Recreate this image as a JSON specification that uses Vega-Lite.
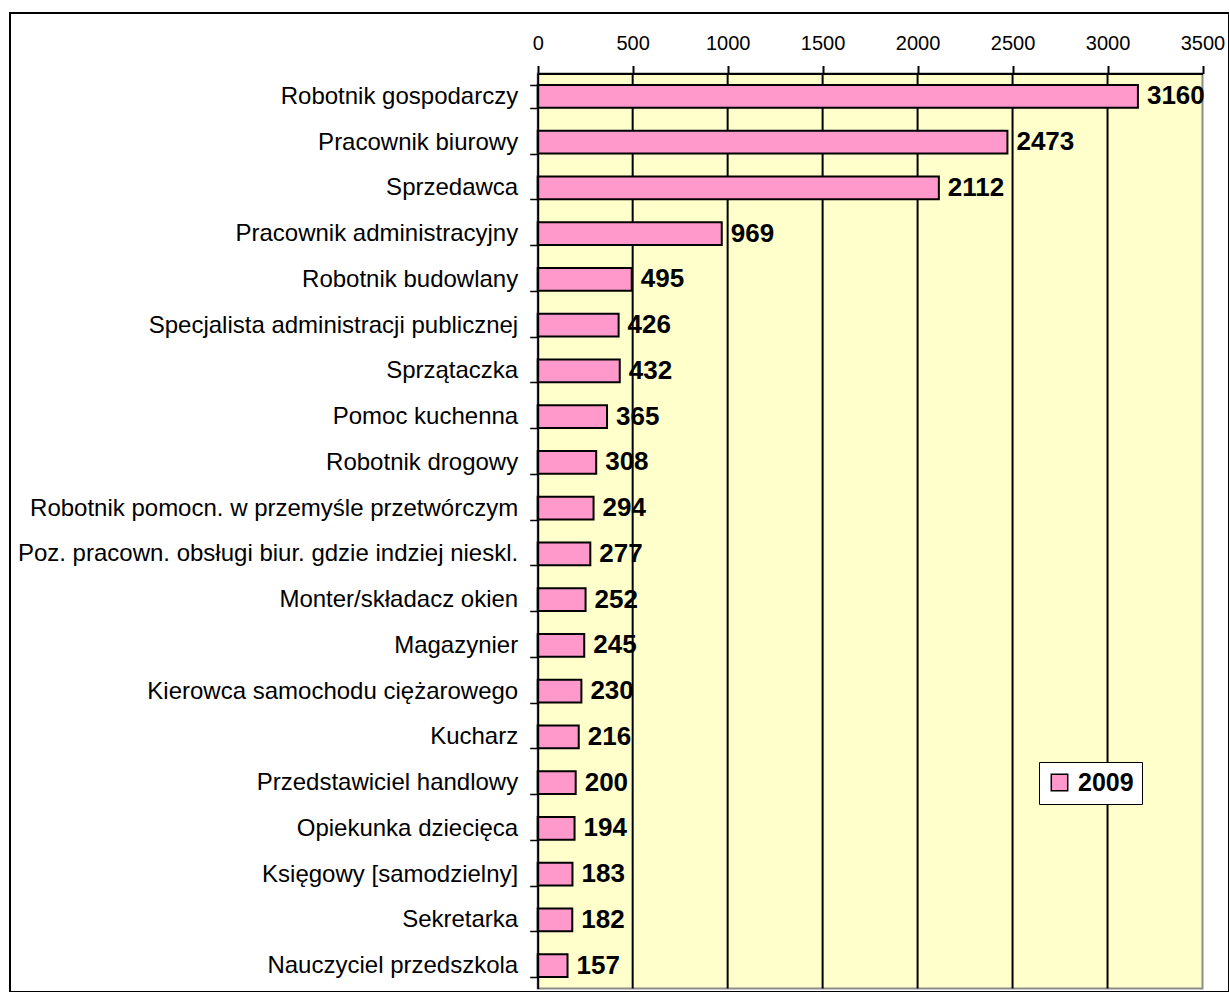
{
  "$schema": "https://vega.github.io/schema/vega-lite/v6.json",
  "width": 1219,
  "height": 979,
  "autosize": {"type": "none"},
  "padding": {"left": 10, "top": 13, "right": 0, "bottom": 0},
  "background": "white",
  "config": {
    "view": {"stroke": "black", "strokeWidth": 2, "fill": "white"},
    "font": "Liberation Sans"
  },
  "layer": [
    {
      "data": {"values": [{}]},
      "mark": {"type": "rect", "fill": "#FFFFCC", "stroke": "#8c8c8c", "strokeWidth": 2},
      "encoding": {
        "x": {
          "datum": 0, "type": "quantitative", "title": null,
          "scale": {"domain": [0, 3500], "range": [527.7, 1192.5], "nice": false, "zero": false},
          "axis": {
            "orient": "top", "offset": -60.5, "values": [0, 500, 1000, 1500, 2000, 2500, 3000, 3500], "format": "d",
            "domainColor": "black", "domainWidth": 2, "tickColor": "black", "tickWidth": 2, "tickSize": 8,
            "labelFontSize": 20, "labelColor": "black", "labelFont": "Liberation Sans",
            "labelBaseline": "alphabetic", "labelPadding": 16, "labelFlush": false, "labelOverlap": false,
            "grid": false, "zindex": 2
          }
        },
        "x2": {"datum": 3500},
        "y": {"datum": 0, "type": "quantitative", "scale": {"domain": [0, 1], "range": [60.5, 975.5], "nice": false, "zero": false}, "axis": null},
        "y2": {"datum": 1}
      }
    },
    {
      "data": {"values": [{"value": 500}, {"value": 1000}, {"value": 1500}, {"value": 2000}, {"value": 2500}, {"value": 3000}]},
      "mark": {"type": "rule", "color": "black", "strokeWidth": 2},
      "encoding": {
        "x": {"field": "value", "type": "quantitative", "title": null},
        "y": {"datum": 0, "type": "quantitative", "scale": {"domain": [0, 1], "range": [60.5, 975.5], "nice": false, "zero": false}, "axis": null},
        "y2": {"datum": 1}
      }
    },
    {
      "data": {
        "values": [
          {"zawod": "Robotnik gospodarczy", "value": 3160, "rok": "2009"},
          {"zawod": "Pracownik biurowy", "value": 2473, "rok": "2009"},
          {"zawod": "Sprzedawca", "value": 2112, "rok": "2009"},
          {"zawod": "Pracownik administracyjny", "value": 969, "rok": "2009"},
          {"zawod": "Robotnik budowlany", "value": 495, "rok": "2009"},
          {"zawod": "Specjalista administracji publicznej", "value": 426, "rok": "2009"},
          {"zawod": "Sprzątaczka", "value": 432, "rok": "2009"},
          {"zawod": "Pomoc kuchenna", "value": 365, "rok": "2009"},
          {"zawod": "Robotnik drogowy", "value": 308, "rok": "2009"},
          {"zawod": "Robotnik pomocn. w przemyśle przetwórczym", "value": 294, "rok": "2009"},
          {"zawod": "Poz. pracown. obsługi biur. gdzie indziej nieskl.", "value": 277, "rok": "2009"},
          {"zawod": "Monter/składacz okien", "value": 252, "rok": "2009"},
          {"zawod": "Magazynier", "value": 245, "rok": "2009"},
          {"zawod": "Kierowca samochodu ciężarowego", "value": 230, "rok": "2009"},
          {"zawod": "Kucharz", "value": 216, "rok": "2009"},
          {"zawod": "Przedstawiciel handlowy", "value": 200, "rok": "2009"},
          {"zawod": "Opiekunka dziecięca", "value": 194, "rok": "2009"},
          {"zawod": "Księgowy [samodzielny]", "value": 183, "rok": "2009"},
          {"zawod": "Sekretarka", "value": 182, "rok": "2009"},
          {"zawod": "Nauczyciel przedszkola", "value": 157, "rok": "2009"}
        ]
      },
      "encoding": {
        "x": {"field": "value", "type": "quantitative", "title": null},
        "y": {
          "field": "zawod", "type": "nominal", "sort": null, "title": null,
          "scale": {"range": [60.5, 975.5], "paddingInner": 0.5, "paddingOuter": 0.25},
          "axis": {
            "orient": "left", "offset": -527.7, "domainColor": "black", "domainWidth": 2,
            "tickColor": "black", "tickWidth": 1.5, "tickSize": 8, "tickBand": "extent",
            "labelFontSize": 24, "labelColor": "black", "labelFont": "Liberation Sans",
            "labelPadding": 12, "labelLimit": 700, "grid": false, "zindex": 2
          }
        }
      },
      "layer": [
        {
          "mark": {"type": "bar", "stroke": "black", "strokeWidth": 2},
          "encoding": {
            "color": {
              "field": "rok", "type": "nominal",
              "scale": {"range": ["#FF99CC"]},
              "legend": {
                "orient": "none", "legendX": 1029, "legendY": 749, "title": null,
                "strokeColor": "black", "fillColor": "white", "padding": 8,
                "symbolType": "square", "symbolSize": 270, "symbolStrokeColor": "black", "symbolStrokeWidth": 1.5,
                "labelFontSize": 25, "labelFontWeight": "bold", "labelColor": "black", "labelFont": "Liberation Sans",
                "labelOffset": 6
              }
            }
          }
        },
        {
          "mark": {"type": "text", "align": "left", "baseline": "middle", "dx": 9, "fontSize": 26, "fontWeight": "bold", "font": "Liberation Sans", "color": "black"},
          "encoding": {
            "text": {"field": "value", "type": "quantitative"}
          }
        }
      ]
    }
  ],
  "resolve": {"scale": {"y": "independent"}}
}
